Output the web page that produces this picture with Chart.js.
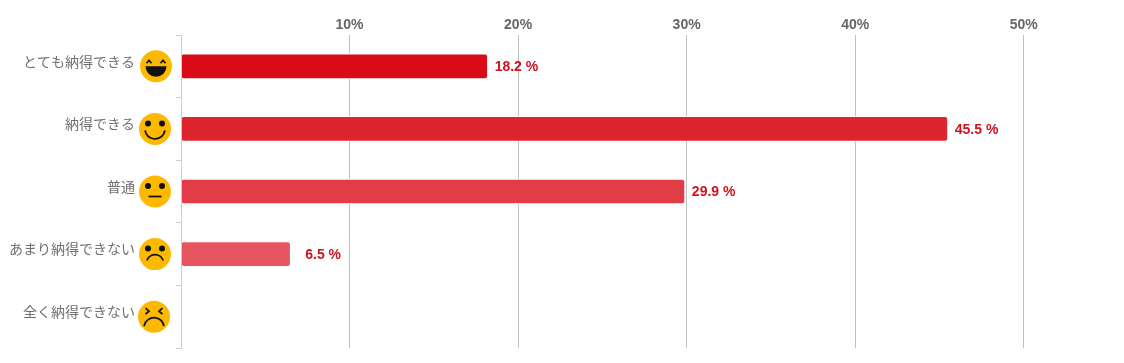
<!DOCTYPE html>
<html>
<head>
<meta charset="utf-8">
<script src="https://cdn.jsdelivr.net/npm/chart.js@4"></script>
<style>
  body { margin: 0; background: #fff; }
  canvas { display: block; }
</style>
</head>
<body>
<canvas id="chart" width="1124" height="363"></canvas>
<script>
const categories = ['とても納得できる', '納得できる', '普通', 'あまり納得できない', '全く納得できない'];
const values = [18.2, 45.5, 29.9, 6.5, null];
const barColors = ['#d90b16', '#dd2530', '#e23c47', '#e75560', '#ec6e77'];
const faces = ['laugh', 'smile', 'neutral', 'sad', 'cry'];
const xTicks = [10, 20, 30, 40, 50];

const faceNudge = [1, 0, 0, 0, -1];

function drawFace(ctx, x, y, kind) {
    ctx.save();
    ctx.fillStyle = '#fdb900';
    ctx.beginPath();
    ctx.arc(x, y, 16, 0, Math.PI * 2);
    ctx.fill();
    ctx.strokeStyle = '#111';
    ctx.fillStyle = '#111';
    ctx.lineWidth = 1.7;

    if (kind === 'laugh') {
        [-7, 7].forEach(dx => {
            ctx.beginPath();
            ctx.moveTo(x + dx - 2.5, y - 3);
            ctx.lineTo(x + dx, y - 6);
            ctx.lineTo(x + dx + 2.5, y - 3);
            ctx.stroke();
        });
        ctx.beginPath();
        ctx.arc(x, y, 10.5, 0, Math.PI);
        ctx.closePath();
        ctx.fill();
    } else if (kind === 'cry') {
        ctx.beginPath();
        ctx.moveTo(x - 8.5, y - 8.5);
        ctx.lineTo(x - 5, y - 5.5);
        ctx.lineTo(x - 8.5, y - 2.5);
        ctx.moveTo(x + 8.5, y - 8.5);
        ctx.lineTo(x + 5, y - 5.5);
        ctx.lineTo(x + 8.5, y - 2.5);
        ctx.stroke();
        ctx.beginPath();
        ctx.arc(x, y + 11, 10, Math.PI * 1.05, Math.PI * 1.95);
        ctx.stroke();
    } else {
        [-7, 7].forEach(dx => {
            ctx.beginPath();
            ctx.arc(x + dx, y - 5.5, 3, 0, Math.PI * 2);
            ctx.fill();
        });
        ctx.beginPath();
        if (kind === 'smile') {
            ctx.arc(x, y, 10, Math.PI * 0.05, Math.PI * 0.95);
        } else if (kind === 'neutral') {
            ctx.moveTo(x - 6.5, y + 5);
            ctx.lineTo(x + 6.5, y + 5);
        } else {
            ctx.arc(x, y + 9, 8.5, Math.PI * 1.1, Math.PI * 1.9);
        }
        ctx.stroke();
    }
    ctx.restore();
}

const facePlugin = {
    id: 'faces',
    afterDraw(chart) {
        const yScale = chart.scales.y;
        faces.forEach((kind, i) => {
            const x = chart.chartArea.left - 26 + faceNudge[i];
            drawFace(chart.ctx, x, yScale.getPixelForValue(i), kind);
        });
    }
};

// value text is right aligned to a fixed distance after the bar end
const valueLabelPlugin = {
    id: 'valueLabels',
    afterDatasetsDraw(chart) {
        const ctx = chart.ctx;
        const meta = chart.getDatasetMeta(0);
        ctx.save();
        ctx.font = 'bold 14px "Liberation Sans", Arial, sans-serif';
        ctx.fillStyle = '#cb1420';
        ctx.textAlign = 'right';
        ctx.textBaseline = 'middle';
        values.forEach((v, i) => {
            if (v === null) return;
            ctx.fillText(v.toFixed(1) + ' %', meta.data[i].x + 50.5, meta.data[i].y + 1);
        });
        ctx.restore();
    }
};

new Chart(document.getElementById('chart').getContext('2d'), {
    type: 'bar',
    data: {
        labels: categories,
        datasets: [{
            data: values,
            backgroundColor: barColors,
            borderColor: '#ffffff',
            borderWidth: 1,
            barThickness: 25,
            borderRadius: 3,
            borderSkipped: false
        }]
    },
    options: {
        indexAxis: 'y',
        responsive: false,
        animation: false,
        layout: { padding: { bottom: 15 } },
        plugins: {
            legend: { display: false },
            tooltip: { enabled: false }
        },
        scales: {
            x: {
                position: 'top',
                min: 0,
                max: 55.95,
                afterFit: scale => { scale.height = 35; },
                afterBuildTicks: scale => { scale.ticks = xTicks.map(v => ({ value: v })); },
                border: { display: false },
                grid: { color: '#c0c0c0', drawTicks: false },
                ticks: {
                    color: '#666666',
                    padding: 1,
                    maxRotation: 0,
                    font: { family: '"Liberation Sans", Arial, sans-serif', size: 14, weight: 'bold' },
                    callback: v => v + '%'
                }
            },
            y: {
                afterFit: scale => {
                    scale.width = 181;
                    scale.paddingTop = 0;
                    scale.paddingBottom = 0;
                },
                border: { color: '#c0d0e0', z: 1 },
                grid: { drawOnChartArea: false, tickColor: '#c0d0e0', tickLength: 5 },
                ticks: {
                    color: '#707070',
                    padding: 41,
                    labelOffset: -5,
                    font: { family: '"Noto Sans CJK JP", sans-serif', size: 14 }
                }
            }
        }
    },
    plugins: [valueLabelPlugin, facePlugin]
});
</script>
</body>
</html>
